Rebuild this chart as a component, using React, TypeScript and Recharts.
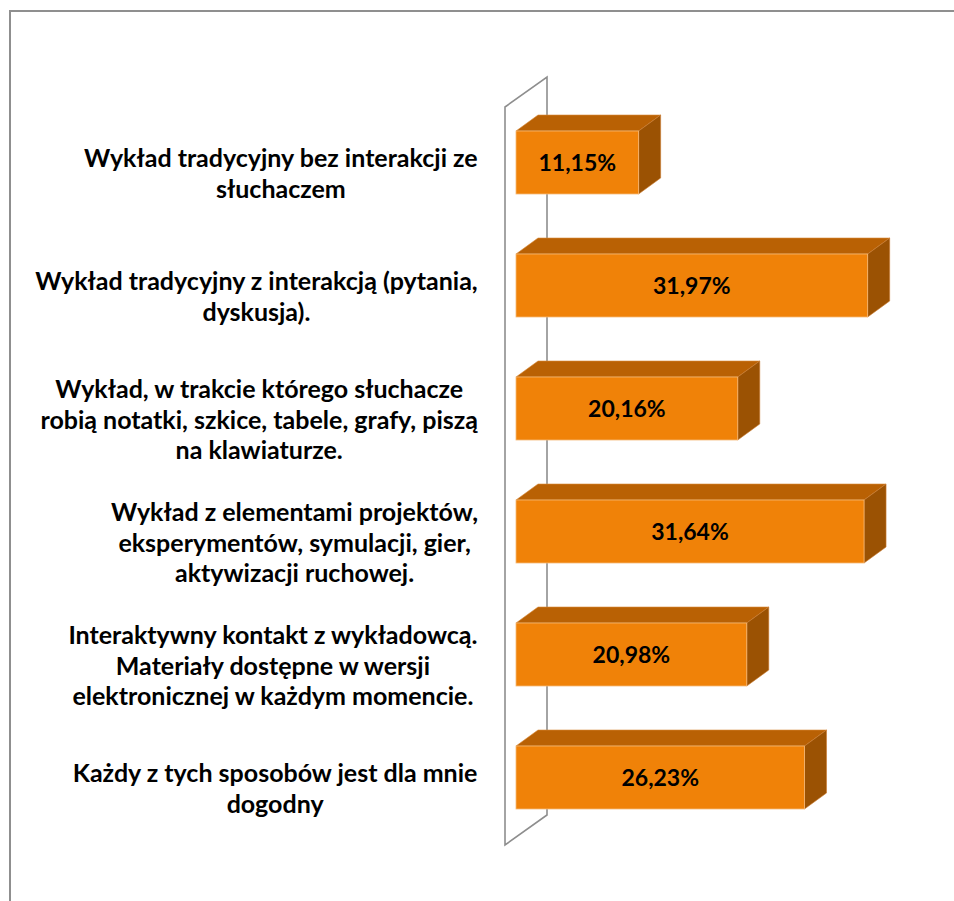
import React from "react";
import { BarChart, Bar, XAxis, YAxis, LabelList } from "recharts";

const categories: string[] = [
  "Wykład tradycyjny bez interakcji ze\nsłuchaczem",
  "Wykład tradycyjny z interakcją (pytania,\ndyskusja).",
  "Wykład, w trakcie którego słuchacze\nrobią notatki, szkice, tabele, grafy, piszą\nna klawiaturze.",
  "Wykład z elementami projektów,\neksperymentów, symulacji, gier,\naktywizacji ruchowej.",
  "Interaktywny kontakt z wykładowcą.\nMateriały dostępne w wersji\nelektronicznej w każdym momencie.",
  "Każdy z tych sposobów jest dla mnie\ndogodny",
];
const values: number[] = [11.15, 31.97, 20.16, 31.64, 20.98, 26.23];

const data = categories.map((c, i) => ({ name: c, value: values[i] }));

const FONT = "Lato, 'Open Sans', sans-serif";
const CAT_SIZE = 25;
const VAL_SIZE = 23;
const LABEL_RIGHT = 467;
const LINE_H = 30.5;

const CHART_W = 943;
const CHART_H = 889;
const M_TOP = 89;
const M_BOTTOM = 62;
const M_RIGHT = 53;

let ctx: CanvasRenderingContext2D | null = null;
function measure(t: string): number {
  if (!ctx) ctx = document.createElement("canvas").getContext("2d");
  if (!ctx) return t.length * 12;
  ctx.font = `bold ${CAT_SIZE}px Lato`;
  return ctx.measureText(t).width;
}

const CatTick = (props: any) => {
  const { y, payload } = props;
  const lines: string[] = String(payload.value).split("\n");
  const maxW = Math.max(...lines.map(measure));
  const cx = LABEL_RIGHT - maxW / 2;
  const cy = y + 10;
  const start = cy - ((lines.length - 1) * LINE_H) / 2;
  return (
    <text
      x={cx}
      y={start}
      textAnchor="middle"
      dominantBaseline="central"
      fontFamily={FONT}
      fontWeight="bold"
      fontSize={CAT_SIZE}
      fill="#000"
    >
      {lines.map((l, i) => (
        <tspan key={i} x={cx} y={start + i * LINE_H}>
          {l}
        </tspan>
      ))}
    </text>
  );
};

const DX = 22;
const DY = 16;
const Box3D = (p: any) => {
  const { x, y, width, height } = p;
  const w = width;
  const h = height;
  return (
    <g>
      <polygon
        points={`${x},${y} ${x + DX},${y - DY} ${x + w + DX},${y - DY} ${x + w},${y}`}
        fill="#B96104"
        stroke="#D98A3A"
        strokeWidth={0.6}
      />
      <polygon
        points={`${x + w},${y} ${x + w + DX},${y - DY} ${x + w + DX},${y + h - DY} ${x + w},${y + h}`}
        fill="#9B5203"
        stroke="#C97A30"
        strokeWidth={0.6}
      />
      <rect x={x} y={y} width={w} height={h} fill="#F08208" stroke="#F6B978" strokeWidth={0.8} />
    </g>
  );
};

// The bar background layer is drawn beneath all bars; use it (once) to draw the 3D wall.
const WallBg = (p: any) => {
  const { x, index } = p;
  if (index !== 0) return <g />;
  const top = M_TOP;
  const bot = CHART_H - M_BOTTOM;
  const fx = x - 11;
  const bx = x + 31;
  const pts = `${fx},${top + 6} ${bx},${top - 24} ${bx},${bot - 24} ${fx},${bot + 6}`;
  return <polygon points={pts} fill="none" stroke="#8E8E8E" strokeWidth={1.6} />;
};

const fmt = (v: any) => `${Number(v).toFixed(2).replace(".", ",")}%`;

export default function App() {
  return (
    <div
      style={{
        position: "absolute",
        left: 9,
        top: 10,
        width: CHART_W,
        height: CHART_H,
        borderLeft: "2px solid #8F8F8F",
        borderTop: "2px solid #8F8F8F",
        background: "#fff",
      }}
    >
      <BarChart
        width={CHART_W}
        height={CHART_H}
        data={data}
        layout="vertical"
        margin={{ top: M_TOP, right: M_RIGHT, bottom: M_BOTTOM, left: 0 }}
        barCategoryGap={0}
      >
        <XAxis type="number" domain={[0, 35]} hide />
        <YAxis
          type="category"
          dataKey="name"
          width={505}
          axisLine={false}
          tickLine={false}
          tick={<CatTick />}
          interval={0}
        />
        <Bar
          dataKey="value"
          barSize={63}
          shape={<Box3D />}
          background={<WallBg />}
          isAnimationActive={false}
        >
          <LabelList
            dataKey="value"
            position="center"
            formatter={fmt}
            fill="#000"
            fontFamily={FONT}
            fontWeight="bold"
            fontSize={VAL_SIZE}
          />
        </Bar>
      </BarChart>
    </div>
  );
}
